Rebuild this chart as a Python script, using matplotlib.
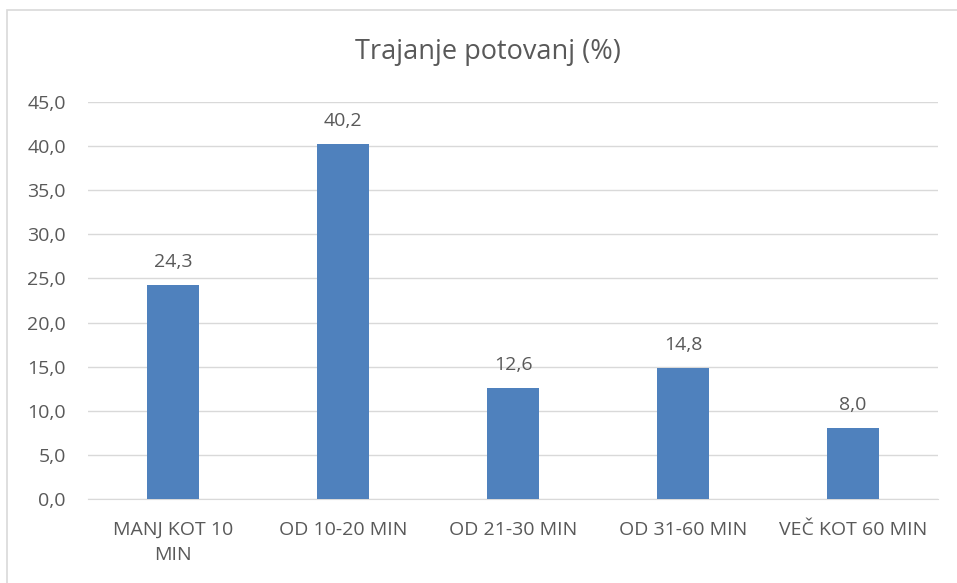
import matplotlib.pyplot as plt
from matplotlib.patches import Rectangle

categories = ['MANJ KOT 10\nMIN', 'OD 10-20 MIN', 'OD 21-30 MIN', 'OD 31-60 MIN', 'VEČ KOT 60 MIN']
values = [24.3, 40.2, 12.6, 14.8, 8.0]
yticks = [0, 5, 10, 15, 20, 25, 30, 35, 40, 45]

txt = '#595959'
plt.rcParams['font.family'] = ['Open Sans', 'DejaVu Sans']

fig = plt.figure(figsize=(9.57, 5.83), dpi=100)
ax = fig.add_axes([88/957, 1-499/583, (938-88)/957, (499-102)/583])

x = range(len(values))
ax.bar(x, values, width=0.31, color='#4F81BD', zorder=3)
for xi, v in zip(x, values):
    ax.text(xi, v + 1.6, f'{v:.1f}'.replace('.', ','), ha='center', va='bottom',
            fontsize=14, color=txt)

ax.set_xlim(-0.5, len(values) - 0.5)
ax.set_ylim(0, 45)
ax.set_yticks(yticks)
ax.set_yticklabels([f'{t:.1f}'.replace('.', ',') for t in yticks])
ax.set_xticks(list(x))
ax.set_xticklabels(categories, linespacing=1.45)
ax.tick_params(axis='both', length=0, labelsize=14, colors=txt)
ax.tick_params(axis='x', pad=16)
ax.tick_params(axis='y', pad=16)
ax.grid(axis='y', color='#D9D9D9', linewidth=1, zorder=0)
for s in ['top', 'right', 'left']:
    ax.spines[s].set_visible(False)
ax.spines['bottom'].set_color('#D9D9D9')

fig.text(488/957, 1-52/583, 'Trajanje potovanj (%)', ha='center', va='center',
         fontsize=19.5, color=txt)

fig.patches.append(Rectangle((7.5/957, -0.05), 1.1, 1.05 - 10.5/583,
                             transform=fig.transFigure, fill=False,
                             edgecolor='#D9D9D9', linewidth=1.2))

fig.savefig('out.png', dpi=100)
